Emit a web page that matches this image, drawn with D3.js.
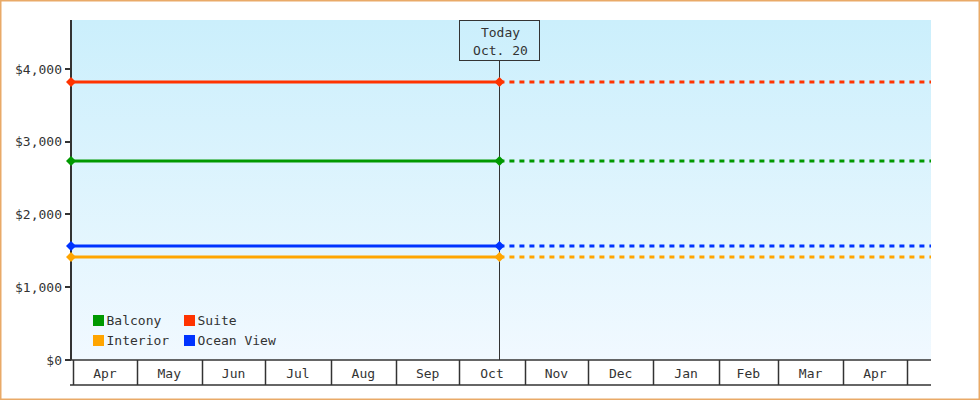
<!DOCTYPE html>
<html><head><meta charset="utf-8">
<script src="https://cdn.jsdelivr.net/npm/d3@7"></script>
<style>
html,body{margin:0;padding:0;background:#fff;}
text{font-family:"DejaVu Sans Mono",monospace;font-size:13px;fill:#333;}
</style></head>
<body><svg id="chart" width="980" height="400"></svg>
<script>
// ---- data ----
const seriesNames = ["Balcony", "Suite", "Interior", "Ocean View"];
const seriesValues = [2735, 3820, 1414, 1566];
const seriesColors = ["#009900", "#ff3300", "#ffa500", "#0033ff"];
const startDate = new Date(Date.UTC(2022, 2, 30, 22));
const todayDate = new Date(Date.UTC(2022, 9, 20));
const endDate = new Date(Date.UTC(2023, 4, 12, 14));
const todayLabel = ["Today", "Oct. 20"];
const yTicks = [0, 1000, 2000, 3000, 4000];
const yMax = 4673;

// ---- layout ----
const svg = d3.select("#chart");
const L = 71, R = 931, T = 20, B = 360;

const defs = svg.append("defs");
const grad = defs.append("linearGradient").attr("id", "bg").attr("x1", 0).attr("y1", 0).attr("x2", 0).attr("y2", 1);
grad.append("stop").attr("offset", "0%").attr("stop-color", "#cbeffc");
grad.append("stop").attr("offset", "100%").attr("stop-color", "#f1f9ff");

const x = d3.scaleUtc().domain([startDate, endDate]).range([L, R]);
const y = d3.scaleLinear().domain([0, yMax]).range([B, T]);

svg.append("rect").attr("x", L).attr("y", T).attr("width", R - L).attr("height", B - T).attr("fill", "url(#bg)");

// x axis month cells
const months = d3.utcMonth.range(d3.utcMonth.ceil(startDate), endDate);
const xa = svg.append("g");
xa.append("line").attr("x1", L).attr("x2", R).attr("y1", B).attr("y2", B).attr("stroke", "#333").attr("stroke-width", 1.5);
xa.append("line").attr("x1", L - 1).attr("x2", R).attr("y1", 385).attr("y2", 385).attr("stroke", "#333").attr("stroke-width", 1.5);
xa.selectAll("line.tk").data(months).join("line").attr("class", "tk")
  .attr("x1", d => Math.round(x(d)) + 0.5).attr("x2", d => Math.round(x(d)) + 0.5)
  .attr("y1", B).attr("y2", 385).attr("stroke", "#333").attr("stroke-width", 1.5);
const fmt = d3.utcFormat("%b");
xa.selectAll("text").data(months.filter(m => x(d3.utcMonth.offset(m, 1)) <= R + 1)).join("text")
  .attr("x", d => (x(d) + x(d3.utcMonth.offset(d, 1))) / 2)
  .attr("y", 373).attr("dy", "0.35em").attr("text-anchor", "middle").text(d => fmt(d));

// y axis
const ya = svg.append("g");
ya.append("line").attr("x1", L).attr("x2", L).attr("y1", T).attr("y2", B).attr("stroke", "#333").attr("stroke-width", 2);
ya.selectAll("line.tk").data(yTicks).join("line").attr("class", "tk")
  .attr("x1", 65).attr("x2", L).attr("y1", d => Math.round(y(d))).attr("y2", d => Math.round(y(d)))
  .attr("stroke", "#333").attr("stroke-width", 2);
ya.selectAll("text").data(yTicks).join("text")
  .attr("x", 62).attr("y", d => y(d)).attr("dy", "0.35em").attr("text-anchor", "end")
  .text(d => d3.format("$,")(d));

// today line & box
const tx = Math.round(x(todayDate)) + 0.5;
svg.append("line").attr("x1", tx).attr("x2", tx)
  .attr("y1", 60).attr("y2", B).attr("stroke", "#333").attr("stroke-width", 1);
svg.append("rect").attr("x", tx - 40).attr("y", 20.5).attr("width", 80).attr("height", 40)
  .attr("fill", "none").attr("stroke", "#333").attr("stroke-width", 1);
svg.append("text").attr("x", tx + 1).attr("y", 37).attr("text-anchor", "middle").text(todayLabel[0]);
svg.append("text").attr("x", tx + 1).attr("y", 55).attr("text-anchor", "middle").text(todayLabel[1]);

// series
const line = d3.line().x(d => x(d[0])).y(d => y(d[1]));
const order = [2, 3, 0, 1];
order.forEach(i => {
  const v = seriesValues[i], c = seriesColors[i];
  svg.append("path").datum([[startDate, v], [todayDate, v]]).attr("d", line)
    .attr("fill", "none").attr("stroke", c).attr("stroke-width", 3);
  svg.append("path").datum([[todayDate, v], [endDate, v]]).attr("d", line)
    .attr("fill", "none").attr("stroke", c).attr("stroke-width", 3)
    .attr("stroke-dasharray", "5,5").attr("stroke-dashoffset", -10);
  svg.selectAll(null).data([startDate, todayDate]).join("path")
    .attr("transform", d => `translate(${x(d)},${y(v)}) rotate(45)`)
    .attr("d", d3.symbol(d3.symbolSquare, 50)()).attr("fill", c);
});

// legend
const legPos = [[93, 315], [184, 315], [93, 335], [184, 335]];
seriesNames.forEach((n, i) => {
  const g = svg.append("g").attr("transform", `translate(${legPos[i][0]},${legPos[i][1]})`);
  g.append("rect").attr("width", 11).attr("height", 11).attr("fill", seriesColors[i]);
  g.append("text").attr("x", 13.5).attr("y", 5.5).attr("dy", "0.35em").text(n);
});

// border
svg.append("rect").attr("x", 0.75).attr("y", 0.75).attr("width", 978.5).attr("height", 398.5)
  .attr("fill", "none").attr("stroke", "#e9aa68").attr("stroke-width", 1.5);
</script></body></html>
